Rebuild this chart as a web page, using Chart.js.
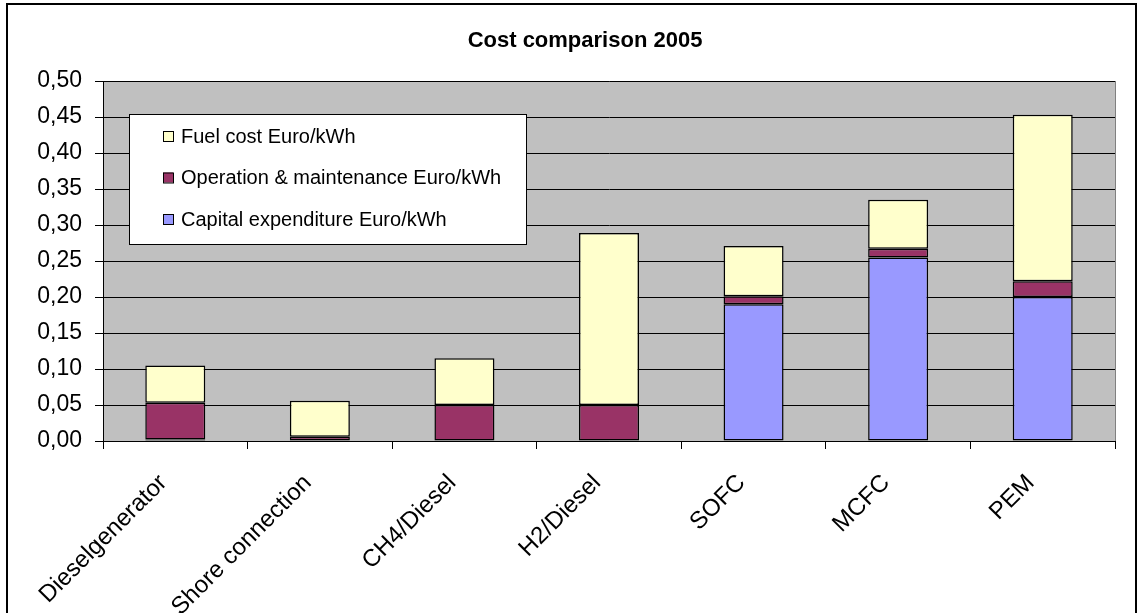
<!DOCTYPE html>
<html>
<head>
<meta charset="utf-8">
<script src="https://cdn.jsdelivr.net/npm/chart.js@4.4.1/dist/chart.umd.min.js"></script>
<style>
  html, body { margin: 0; padding: 0; background: #fff; }
  canvas { display: block; }
</style>
</head>
<body>
<canvas id="myChart" width="1138" height="613"></canvas>
<script>
const categories = [
    'Dieselgenerator',
    'Shore connection',
    'CH4/Diesel',
    'H2/Diesel',
    'SOFC',
    'MCFC',
    'PEM',
];

// Euro/kWh
const capitalCost = [0.002, 0, 0, 0, 0.19, 0.255, 0.20];
const omCost = [0.051, 0.006, 0.05, 0.05, 0.011, 0.012, 0.022];
const fuelCost = [0.052, 0.05, 0.065, 0.239, 0.07, 0.068, 0.231];

const yTicks = [0, 0.05, 0.10, 0.15, 0.20, 0.25, 0.30, 0.35, 0.40, 0.45, 0.50];

const titleText = 'Cost comparison 2005';
const FONT = 'Arial, "Liberation Sans", sans-serif';

const canvas = document.getElementById('myChart');

function bar(label, values, color) {
    return {
        label: label,
        data: values,
        backgroundColor: color,
        borderColor: '#000',
        borderWidth: 1.5,
        borderSkipped: false,
        categoryPercentage: 1,
        barPercentage: 0.415,
    };
}

const data = {
    labels: categories,
    datasets: [
        bar('Capital expenditure Euro/kWh', capitalCost, '#9999FF'),
        bar('Operation & maintenance Euro/kWh', omCost, '#993366'),
        bar('Fuel cost Euro/kWh', fuelCost, '#FFFFCC'),
    ]
};

// plot background, outer frame, title and the boxed legend
const excelLook = {
    id: 'excelLook',
    beforeDraw(chart) {
        const ctx = chart.ctx;
        const a = chart.chartArea;
        ctx.save();
        ctx.fillStyle = '#fff';
        ctx.fillRect(0, 0, chart.width, chart.height);
        ctx.fillStyle = '#C0C0C0';
        ctx.fillRect(a.left, a.top, a.right - a.left, a.bottom - a.top);
        ctx.strokeStyle = '#808080';
        ctx.lineWidth = 1;
        ctx.strokeRect(a.left + 0.5, a.top + 0.5, a.right - a.left, a.bottom - a.top);
        ctx.restore();
    },
    afterDraw(chart) {
        const ctx = chart.ctx;
        const a = chart.chartArea;
        ctx.save();
        // outer frame
        ctx.strokeStyle = '#000';
        ctx.lineWidth = 2;
        ctx.strokeRect(7, 4, chart.width - 9, chart.height);

        // title
        ctx.fillStyle = '#000';
        ctx.font = 'bold 22px ' + FONT;
        ctx.textAlign = 'center';
        ctx.textBaseline = 'alphabetic';
        ctx.fillText(titleText, 585, 47);

        // legend, top item is the top stack
        const boxX = a.left + 26, boxY = a.top + 33, boxW = 397, boxH = 130;
        ctx.fillStyle = '#fff';
        ctx.fillRect(boxX, boxY, boxW, boxH);
        ctx.strokeStyle = '#000';
        ctx.lineWidth = 1;
        ctx.strokeRect(boxX + 0.5, boxY + 0.5, boxW, boxH);
        ctx.font = '20px ' + FONT;
        ctx.textAlign = 'left';
        ctx.textBaseline = 'middle';
        const items = chart.data.datasets.slice().reverse();
        items.forEach((ds, i) => {
            const cy = boxY + 22 + i * 41.5;
            ctx.fillStyle = ds.backgroundColor;
            ctx.fillRect(boxX + 34, cy - 5, 10, 10);
            ctx.strokeStyle = '#000';
            ctx.strokeRect(boxX + 34.5, cy - 4.5, 10, 10);
            ctx.fillStyle = '#000';
            ctx.fillText(ds.label, boxX + 52, cy + 1);
        });
        ctx.restore();
    }
};

const config = {
    type: 'bar',
    data: data,
    options: {
        responsive: false,
        animation: false,
        layout: { padding: { top: 81, right: 23, left: 0, bottom: 0 } },
        plugins: {
            legend: { display: false },
            title: { display: false },
            tooltip: { enabled: false },
        },
        scales: {
            x: {
                stacked: true,
                offset: true,
                grid: {
                    offset: true,
                    drawOnChartArea: false,
                    tickLength: 8,
                    color: '#000',
                },
                border: { color: '#000', width: 1 },
                ticks: {
                    color: '#000',
                    font: { family: FONT, size: 24 },
                    minRotation: 45,
                    maxRotation: 45,
                    padding: 20,
                    labelOffset: -12,
                    autoSkip: false,
                },
                afterFit(scale) { scale.height = 172; },
            },
            y: {
                stacked: true,
                min: 0,
                max: 0.5,
                afterBuildTicks(scale) {
                    scale.ticks = yTicks.map(v => ({ value: v }));
                },
                grid: {
                    color: '#000',
                    lineWidth: 1,
                    tickLength: 8,
                },
                border: { color: '#000', width: 1 },
                ticks: {
                    color: '#000',
                    font: { family: FONT, size: 23 },
                    padding: 13,
                    callback: v => v.toFixed(2).replace('.', ','),
                },
                afterFit(scale) { scale.width = 103; },
            }
        }
    },
    plugins: [excelLook]
};

const myChart = new Chart(canvas, config);
</script>
</body>
</html>
